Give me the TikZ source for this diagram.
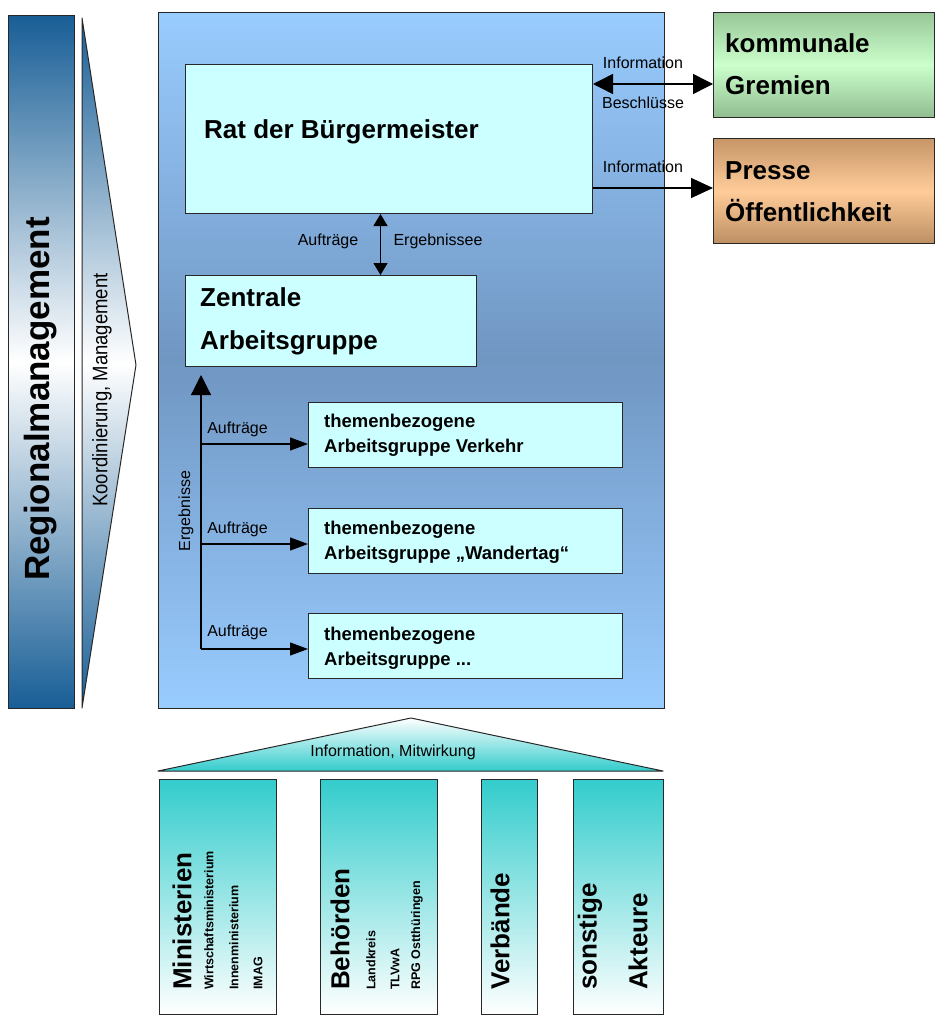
\documentclass[tikz,border=0pt]{standalone}
\usepackage{fontspec}
\setmainfont{Liberation Sans}
\usetikzlibrary{arrows.meta,calc}
\definecolor{panelTop}{RGB}{153,204,255}
\definecolor{panelMid}{RGB}{112,150,194}
\definecolor{regBlue}{RGB}{24,94,150}
\definecolor{innerFill}{RGB}{204,255,255}
\definecolor{greenA}{RGB}{152,198,152}
\definecolor{greenB}{RGB}{204,255,204}
\definecolor{orangeA}{RGB}{198,150,104}
\definecolor{orangeB}{RGB}{255,204,153}
\definecolor{tealC}{RGB}{51,204,204}
\definecolor{edge}{RGB}{40,40,40}
\begin{document}
\begin{tikzpicture}[x=1pt,y=-1pt,
  boxline/.style={draw=edge, line width=1pt, inner sep=0pt, anchor=north west},
  innerbox/.style={boxline, fill=innerFill},
  bigtext/.style={font=\fontsize{26}{42}\selectfont\bfseries, align=left, inner sep=0pt, anchor=west},
  midtext/.style={font=\fontsize{18.5}{25}\selectfont\bfseries, align=left, inner sep=0pt, anchor=west},
  lbl/.style={font=\fontsize{16}{19}\selectfont, inner sep=0pt},
  rotbig/.style={font=\fontsize{26}{30}\selectfont\bfseries, rotate=90, anchor=west, inner sep=0pt},
  rotsmall/.style={font=\fontsize{12.5}{15}\selectfont\bfseries, rotate=90, anchor=west, inner sep=0pt},
  dblarrow/.style={line width=1.5pt, {Triangle[length=20pt,width=20pt]}-{Triangle[length=20pt,width=20pt]}},
  outarrow/.style={line width=1.5pt, -{Triangle[length=22pt,width=20pt]}},
  vdbl/.style={line width=1.2pt, {Triangle[length=12pt,width=14pt]}-{Triangle[length=12pt,width=14pt]}},
  uparrow/.style={line width=1.2pt, -{Triangle[length=20pt,width=20pt]}},
  taskarrow/.style={line width=1.2pt, -{Triangle[length=18pt,width=13pt]}},
  tri/.style={draw=edge, line width=1pt, line join=round}
]
\useasboundingbox (0,0) rectangle (935,1017);

% left bar
\node[boxline, top color=regBlue, bottom color=regBlue, middle color=white,
      minimum width=66pt, minimum height=693pt] (reg) at (8,15) {};
\node[font=\fontsize{35}{40}\selectfont\bfseries, rotate=90, inner sep=0pt] (regt) at (41,399) {Regionalmanagement};

% left triangle
\shadedraw[tri, top color=regBlue, bottom color=regBlue, middle color=white]
  (82,18) -- (136,365) -- (82,708) -- cycle;
\node[font=\fontsize{21}{24}\selectfont, rotate=90, inner sep=0pt] (koord) at (102,390) {\scalebox{0.88}[1]{Koordinierung, Management}};

% main panel
\node[boxline, top color=panelTop, bottom color=panelTop, middle color=panelMid,
      minimum width=506pt, minimum height=696pt] (panel) at (158,12) {};

% Rat
\node[innerbox, minimum width=407pt, minimum height=149pt] (rat) at (185,64) {};
\node[bigtext] (ratt) at (204,132) {Rat der Bürgermeister};

% right boxes
\node[boxline, top color=greenA, bottom color=greenA!95!black, middle color=greenB,
      minimum width=221pt, minimum height=105pt] (grem) at (713,12) {};
\node[bigtext] (gremt) at (725,64) {kommunale\\Gremien};
\node[boxline, top color=orangeA, bottom color=orangeA!95!black, middle color=orangeB,
      minimum width=221pt, minimum height=105pt] (presse) at (713,138) {};
\node[bigtext] (presset) at (725,192) {Presse\\Öffentlichkeit};

% Zentrale
\node[innerbox, minimum width=291pt, minimum height=91pt] (zag) at (185,275) {};
\node[bigtext, font=\fontsize{26}{43}\selectfont\bfseries] (zagt) at (200,321) {Zentrale\\Arbeitsgruppe};

% theme boxes
\node[innerbox, minimum width=314pt, minimum height=65pt] (tg1) at (308,402) {};
\node[midtext] (tg1t) at (324,435.5) {themenbezogene\\Arbeitsgruppe Verkehr};
\node[innerbox, minimum width=314pt, minimum height=65pt] (tg2) at (308,508) {};
\node[midtext] (tg2t) at (324,542) {themenbezogene\\Arbeitsgruppe „Wandertag“};
\node[innerbox, minimum width=314pt, minimum height=65pt] (tg3) at (308,613) {};
\node[midtext] (tg3t) at (324,648) {themenbezogene\\Arbeitsgruppe ...};

% connectors top right
\path ([yshift=-20pt]rat.north east) coordinate (p1);
\draw[dblarrow] (p1) -- (p1 -| grem.west);
\path ([yshift=26pt]rat.south east) coordinate (p2);
\draw[outarrow] (p2) -- (p2 -| presse.west);
\node[lbl] (l1) at (643,63) {Information};
\node[lbl] (l2) at (643,103) {Beschlüsse};
\node[lbl] (l3) at (643,167) {Information};

% Rat <-> Zentrale
\path ([xshift=-8.5pt]rat.south) coordinate (p3);
\draw[vdbl] (p3) -- (p3 |- zag.north);
\node[lbl] (l4) at (328,241) {Aufträge};
\node[lbl] (l5) at (438,241) {Ergebnissee};

% Ergebnisse line
\coordinate (eb) at (201,649);
\coordinate (et) at (201,375);
\draw[uparrow] (eb) -- (et);
\node[lbl, rotate=90] (l6) at (186,511) {Ergebnisse};
\coordinate (a1) at (201,444);
\coordinate (a2) at (201,544);
\draw[taskarrow] (a1) -- (a1 -| tg1.west);
\draw[taskarrow] (a2) -- (a2 -| tg2.west);
\draw[taskarrow] (eb) -- (eb -| tg3.west);
\node[lbl] (l7) at (237.5,429) {Aufträge};
\node[lbl] (l8) at (237.5,529) {Aufträge};
\node[lbl] (l9) at (237.5,632) {Aufträge};

% bottom triangle
\shadedraw[tri, top color=white, bottom color=tealC]
  (158,771) -- (411,718) -- (663,771) -- cycle;
\node[lbl] (info) at (393,752) {Information, Mitwirkung};

% bottom boxes
\node[boxline, top color=tealC, bottom color=white, minimum width=117pt, minimum height=235pt] (mini) at (159,779) {};
\node[rotbig] (minit) at (182,990) {Ministerien};
\node[rotsmall] (m1) at (209,990) {Wirtschaftsministerium};
\node[rotsmall] (m2) at (234,990) {Innenministerium};
\node[rotsmall] (m3) at (258,990) {IMAG};

\node[boxline, top color=tealC, bottom color=white, minimum width=117pt, minimum height=235pt] (beh) at (320,779) {};
\node[rotbig] (beht) at (340,990) {Behörden};
\node[rotsmall] (b1) at (371,990) {Landkreis};
\node[rotsmall] (b2) at (395,990) {TLVwA};
\node[rotsmall] (b3) at (417,990) {RPG Ostthüringen};

\node[boxline, top color=tealC, bottom color=white, minimum width=56pt, minimum height=235pt] (verb) at (481,779) {};
\node[rotbig] (verbt) at (500,990) {Verbände};

\node[boxline, top color=tealC, bottom color=white, minimum width=90pt, minimum height=235pt] (sonst) at (573,779) {};
\node[rotbig] (sonst1) at (590,990) {sonstige};
\node[rotbig] (sonst2) at (638,990) {Akteure};
\end{tikzpicture}
\end{document}
